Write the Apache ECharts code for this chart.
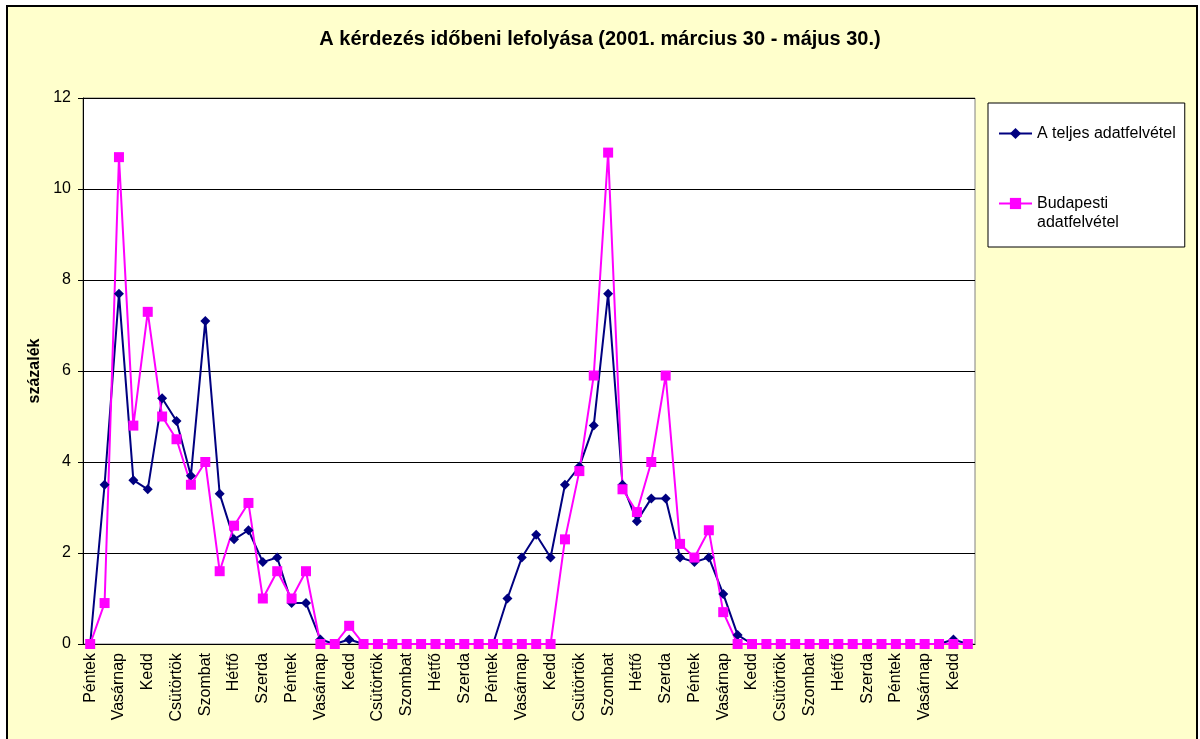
<!DOCTYPE html>
<html>
<head>
<meta charset="utf-8">
<script src="https://cdn.jsdelivr.net/npm/echarts@6/dist/echarts.min.js"></script>
<style>
  html, body { margin: 0; padding: 0; background: #fff; }
  #chart { width: 1200px; height: 739px; }
</style>
</head>
<body>
<div id="chart"></div>
<script>
// 2001. március 30 (péntek) - május 30. napjai
const weekDays = ['Péntek', 'Szombat', 'Vasárnap', 'Hétfő', 'Kedd', 'Szerda', 'Csütörtök']
const dayCount = 62
const days = []
for (let i = 0; i < dayCount; i++) days.push(weekDays[i % 7])

// A teljes adatfelvétel (%)
const teljes = [
  0, 3.5, 7.7, 3.6, 3.4, 5.4, 4.9, 3.7, 7.1, 3.3,
  2.3, 2.5, 1.8, 1.9, 0.9, 0.9, 0.1, 0, 0.1, 0,
  0, 0, 0, 0, 0, 0, 0, 0, 0, 1.0,
  1.9, 2.4, 1.9, 3.5, 3.9, 4.8, 7.7, 3.5, 2.7, 3.2,
  3.2, 1.9, 1.8, 1.9, 1.1, 0.2, 0, 0, 0, 0,
  0, 0, 0, 0, 0, 0, 0, 0, 0, 0,
  0.1, 0
]

// Budapesti adatfelvétel (%)
const budapest = [
  0, 0.9, 10.7, 4.8, 7.3, 5.0, 4.5, 3.5, 4.0, 1.6,
  2.6, 3.1, 1.0, 1.6, 1.0, 1.6, 0, 0, 0.4, 0,
  0, 0, 0, 0, 0, 0, 0, 0, 0, 0,
  0, 0, 0, 2.3, 3.8, 5.9, 10.8, 3.4, 2.9, 4.0,
  5.9, 2.2, 1.9, 2.5, 0.7, 0, 0, 0, 0, 0,
  0, 0, 0, 0, 0, 0, 0, 0, 0, 0,
  0, 0
]

const seriesNames = ['A teljes adatfelvétel', 'Budapesti\nadatfelvétel']

const font = "'Liberation Sans', Arial, sans-serif"
const chart = echarts.init(document.getElementById('chart'))

const option = {
  backgroundColor: '#fff',
  animation: false,
  textStyle: { fontFamily: font, color: '#000' },
  graphic: [{
    type: 'rect',
    z: -10,
    silent: true,
    shape: { x: 7, y: 6, width: 1190, height: 740 },
    style: { fill: '#FFFFCC', stroke: '#000', lineWidth: 2 }
  }],
  title: {
    text: 'A kérdezés időbeni lefolyása (2001. március 30 - május 30.)',
    left: 'center',
    top: 29,
    padding: [0, 0, 0, 12],
    textStyle: { fontFamily: font, fontSize: 20, fontWeight: 'bold', color: '#000' }
  },
  legend: {
    orient: 'vertical',
    left: 988,
    top: 103,
    padding: [21, 9, 15, 10],
    itemGap: 32,
    itemWidth: 33,
    itemHeight: 14,
    backgroundColor: '#fff',
    borderColor: '#000',
    borderWidth: 1,
    borderRadius: 0,
    textStyle: { fontFamily: font, fontSize: 16, color: '#000', lineHeight: 19 },
    // a kétsoros tétel jele az első sorhoz igazodik
    formatter: name => (name.indexOf('\n') >= 0 ? '\n' + name : name),
    data: seriesNames
  },
  grid: {
    left: 83,
    top: 98,
    right: 225,
    bottom: 95,
    show: true,
    backgroundColor: '#fff',
    borderColor: '#808080',
    borderWidth: 1
  },
  xAxis: {
    type: 'category',
    data: days,
    boundaryGap: true,
    axisLine: { lineStyle: { color: '#000', width: 1 } },
    axisTick: { interval: 0, length: 5, lineStyle: { color: '#000' } },
    axisLabel: {
      interval: 1,
      rotate: 90,
      margin: 9,
      fontSize: 16,
      fontFamily: font,
      color: '#000'
    },
    splitLine: { show: false }
  },
  yAxis: {
    type: 'value',
    min: 0,
    max: 12,
    interval: 2,
    name: 'százalék',
    nameLocation: 'middle',
    nameGap: 40,
    nameTextStyle: { fontFamily: font, fontSize: 16, fontWeight: 'bold', color: '#000' },
    axisLine: { show: true, lineStyle: { color: '#000', width: 1 } },
    axisTick: { show: true, length: 5, lineStyle: { color: '#000' } },
    axisLabel: { fontSize: 16, fontFamily: font, color: '#000', margin: 12 },
    splitLine: { show: true, lineStyle: { color: '#000', width: 1 } }
  },
  series: [
    {
      name: seriesNames[0],
      type: 'line',
      data: teljes,
      symbol: 'diamond',
      symbolSize: 10,
      showAllSymbol: true,
      lineStyle: { color: '#000080', width: 2 },
      itemStyle: { color: '#000080' }
    },
    {
      name: seriesNames[1],
      type: 'line',
      data: budapest,
      symbol: 'rect',
      symbolSize: 10,
      showAllSymbol: true,
      lineStyle: { color: '#FF00FF', width: 2 },
      itemStyle: { color: '#FF00FF' }
    }
  ]
}

chart.setOption(option)
</script>
</body>
</html>
